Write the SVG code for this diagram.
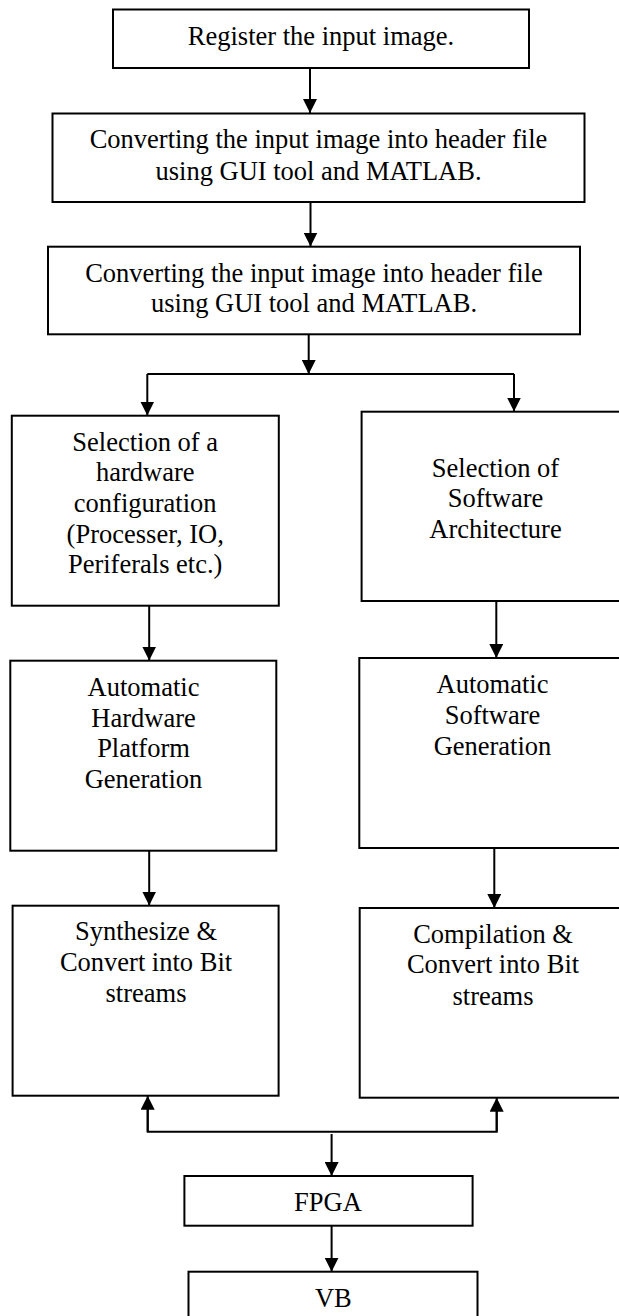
<svg xmlns="http://www.w3.org/2000/svg" width="619" height="1316" viewBox="0 0 619 1316">
<defs>
<style>
.box{fill:#fff;stroke:#000;stroke-width:2}
.t{font-family:"Liberation Serif","Times New Roman",serif;font-size:26.5px;fill:#000;text-anchor:middle}
.c{fill:none;stroke:#000;stroke-width:2}
.a{marker-end:url(#ah)}
</style>
<marker id="ah" markerUnits="userSpaceOnUse" markerWidth="14" markerHeight="14" refX="14" refY="7" orient="auto" viewBox="0 0 14 14">
<path d="M0,0 L14,7 L0,14 z" fill="#000"/>
</marker>
</defs>
<rect width="619" height="1316" fill="#fff"/>
<g id="connectors">
<line class="c a" x1="310" y1="68" x2="310" y2="113"/>
<line class="c a" x1="310.5" y1="202" x2="310.5" y2="246.5"/>
<line class="c a" x1="308.7" y1="334.3" x2="308.7" y2="374"/>
<line class="c" x1="147.3" y1="374" x2="514" y2="374"/>
<line class="c a" x1="147.3" y1="374" x2="147.3" y2="415.5"/>
<line class="c a" x1="514" y1="374" x2="514" y2="411.5"/>
<line class="c a" x1="149.2" y1="605.7" x2="149.2" y2="660.5"/>
<line class="c a" x1="496.3" y1="601" x2="496.3" y2="658"/>
<line class="c a" x1="149.2" y1="850.7" x2="149.2" y2="905.5"/>
<line class="c a" x1="494.3" y1="848" x2="494.3" y2="908"/>
<polyline class="c" points="147.7,1107 147.7,1131.7 496.7,1131.7 496.7,1107"/>
<line class="c a" x1="147.7" y1="1131.7" x2="147.7" y2="1095.7"/>
<line class="c a" x1="496.7" y1="1131.7" x2="496.7" y2="1097.7"/>
<line class="c a" x1="331.6" y1="1134" x2="331.6" y2="1176"/>
<line class="c a" x1="331.6" y1="1225.7" x2="331.6" y2="1271.7"/>
</g>
<g id="n1">
<rect class="box" x="113" y="9.5" width="416" height="58.5"/>
<text class="t" x="321" y="45">Register the input image.</text>
</g>
<g id="n2">
<rect class="box" x="52.5" y="113.5" width="532" height="88.5"/>
<text class="t" x="318.5" y="148.3">Converting the input image into header file</text>
<text class="t" x="318.5" y="180">using GUI tool and MATLAB.</text>
</g>
<g id="n3">
<rect class="box" x="48" y="246.7" width="532" height="87.6"/>
<text class="t" x="314" y="281.7">Converting the input image into header file</text>
<text class="t" x="314" y="312.3">using GUI tool and MATLAB.</text>
</g>
<g id="n4">
<rect class="box" x="11.8" y="415.7" width="267" height="190"/>
<text class="t" x="145.2" y="450.7">Selection of a</text>
<text class="t" x="145.2" y="481.3">hardware</text>
<text class="t" x="145.2" y="512">configuration</text>
<text class="t" x="145.2" y="542.7">(Processer, IO,</text>
<text class="t" x="145.2" y="573.3">Periferals etc.)</text>
</g>
<g id="n5">
<rect class="box" x="361.6" y="411.7" width="268" height="189.3"/>
<text class="t" x="495.5" y="477.3">Selection of</text>
<text class="t" x="495.5" y="507.3">Software</text>
<text class="t" x="495.5" y="537.7">Architecture</text>
</g>
<g id="n6">
<rect class="box" x="10.3" y="660.7" width="266" height="190"/>
<text class="t" x="143.5" y="696">Automatic</text>
<text class="t" x="143.5" y="726.7">Hardware</text>
<text class="t" x="143.5" y="757.3">Platform</text>
<text class="t" x="143.5" y="788">Generation</text>
</g>
<g id="n7">
<rect class="box" x="359.3" y="658" width="270" height="190"/>
<text class="t" x="492.5" y="693.3">Automatic</text>
<text class="t" x="492.5" y="724">Software</text>
<text class="t" x="492.5" y="755">Generation</text>
</g>
<g id="n8">
<rect class="box" x="12.6" y="905.7" width="266" height="190"/>
<text class="t" x="146" y="940">Synthesize &amp;</text>
<text class="t" x="146" y="971">Convert into Bit</text>
<text class="t" x="146" y="1001.7">streams</text>
</g>
<g id="n9">
<rect class="box" x="359.7" y="908" width="270" height="189.7"/>
<text class="t" x="493" y="942.7">Compilation &amp;</text>
<text class="t" x="493" y="973.3">Convert into Bit</text>
<text class="t" x="493" y="1005">streams</text>
</g>
<g id="n10">
<rect class="box" x="184.4" y="1176" width="288.2" height="49.7"/>
<text class="t" x="328" y="1211">FPGA</text>
</g>
<g id="n11">
<rect class="box" x="188.5" y="1271.7" width="289" height="60"/>
<text class="t" x="333.3" y="1306.7">VB</text>
</g>
</svg>
